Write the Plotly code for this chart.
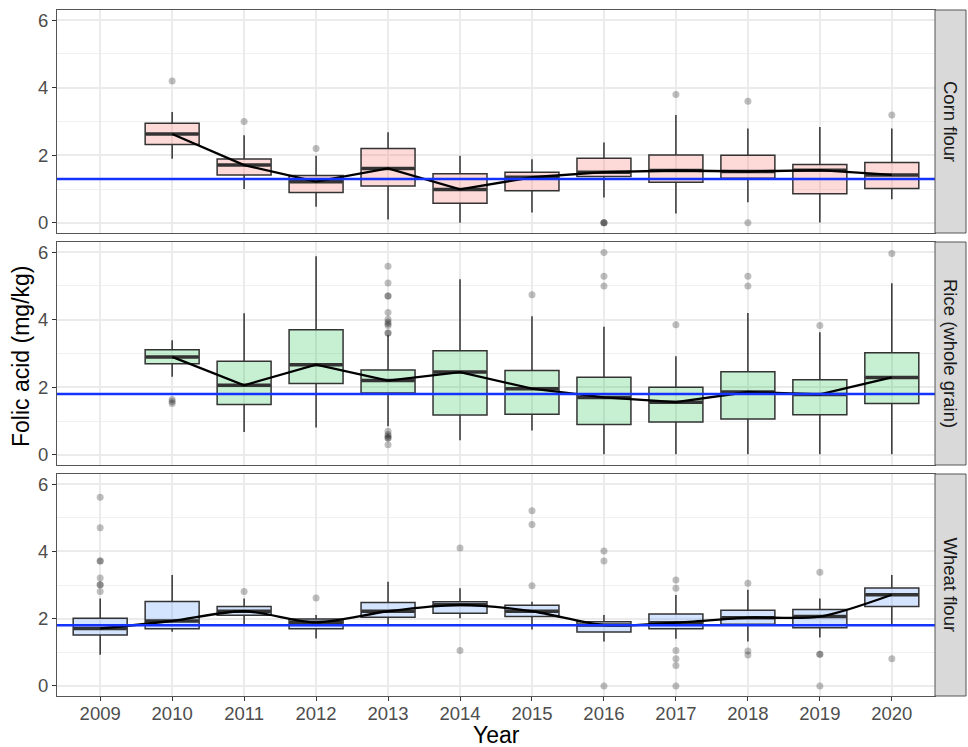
import plotly.graph_objects as go
from plotly.subplots import make_subplots

years = [str(y) for y in range(2009, 2021)]
panel_names = ["Corn flour", "Rice (whole grain)", "Wheat flour"]
reference_levels = [1.3, 1.8, 1.8]

# ---- Corn flour (2010-2020)
corn_years = years[1:]
corn_q1 = [2.32, 1.42, 0.90, 1.09, 0.58, 0.95, 1.37, 1.20, 1.32, 0.86, 1.02]
corn_med = [2.63, 1.71, 1.22, 1.61, 0.99, 1.35, 1.50, 1.55, 1.52, 1.56, 1.42]
corn_q3 = [2.95, 1.89, 1.40, 2.20, 1.45, 1.50, 1.91, 2.01, 2.00, 1.73, 1.79]
corn_lo = [1.90, 1.00, 0.48, 0.10, 0.00, 0.31, 0.75, 0.28, 0.61, 0.01, 0.70]
corn_hi = [3.28, 2.59, 1.99, 2.68, 1.99, 1.88, 2.38, 3.19, 2.79, 2.84, 2.79]
corn_out_x = ["2010", "2011", "2012", "2016", "2016", "2016", "2017", "2018", "2018", "2020"]
corn_out_y = [4.20, 3.00, 2.20, 0.0, 0.0, 0.0, 3.80, 3.60, 0.0, 3.19]

# ---- Rice (whole grain) (2010-2020)
rice_years = years[1:]
rice_q1 = [2.70, 1.49, 2.11, 1.83, 1.18, 1.20, 0.90, 0.97, 1.06, 1.19, 1.52]
rice_med = [2.90, 2.06, 2.67, 2.20, 2.45, 1.96, 1.70, 1.56, 1.86, 1.79, 2.29]
rice_q3 = [3.11, 2.77, 3.70, 2.51, 3.08, 2.50, 2.30, 2.00, 2.46, 2.22, 3.02]
rice_lo = [2.31, 0.68, 0.81, 0.85, 0.43, 0.72, 0.02, 0.02, 0.02, 0.02, 0.02]
rice_hi = [3.39, 4.19, 5.88, 3.54, 5.20, 4.10, 3.79, 2.92, 4.20, 3.63, 5.08]
rice_out_x = (["2010"] * 3 + ["2013"] * 17 + ["2015"] + ["2016"] * 3 + ["2017"]
              + ["2018"] * 2 + ["2019"] + ["2020"])
rice_out_y = [1.64, 1.58, 1.52,
              5.58, 5.09, 4.70, 4.70, 4.21, 4.01, 3.93, 3.88, 3.83, 3.61, 3.61,
              0.70, 0.60, 0.55, 0.50, 0.50, 0.30,
              4.74, 5.99, 5.29, 5.00, 3.85, 5.29, 5.00, 3.83, 5.96]

# ---- Wheat flour (2009-2020)
wheat_years = years
wheat_q1 = [1.51, 1.70, 2.10, 1.70, 2.04, 2.16, 2.06, 1.60, 1.70, 1.83, 1.73, 2.36]
wheat_med = [1.71, 1.93, 2.22, 1.89, 2.22, 2.41, 2.22, 1.81, 1.88, 2.03, 2.06, 2.71]
wheat_q3 = [2.01, 2.51, 2.36, 1.99, 2.48, 2.50, 2.40, 1.91, 2.14, 2.25, 2.27, 2.91]
wheat_lo = [0.93, 1.61, 1.83, 1.41, 1.83, 2.01, 1.68, 1.32, 1.40, 1.32, 1.44, 1.84]
wheat_hi = [2.60, 3.30, 2.60, 2.11, 3.10, 2.90, 2.50, 2.11, 2.70, 2.86, 2.60, 3.30]
wheat_out_x = (["2009"] * 8 + ["2011", "2012"] + ["2014"] * 2 + ["2015"] * 3
               + ["2016"] * 3 + ["2017"] * 6 + ["2018"] * 3 + ["2019"] * 4 + ["2020"])
wheat_out_y = [5.61, 4.70, 3.71, 3.71, 3.21, 3.01, 3.01, 2.81,
               2.81, 2.61, 4.10, 1.05, 5.21, 4.80, 2.98,
               4.01, 3.71, 0.0, 3.15, 2.90, 1.05, 0.81, 0.61, 0.0,
               3.05, 1.04, 0.92, 3.38, 0.94, 0.94, 0.0, 0.81]

fills = ["rgba(248,118,109,0.27)", "rgba(0,186,56,0.22)", "rgba(97,156,255,0.27)"]
line_shapes = ["linear", "linear", "spline"]

panels = [
    (corn_years, corn_q1, corn_med, corn_q3, corn_lo, corn_hi, corn_out_x, corn_out_y),
    (rice_years, rice_q1, rice_med, rice_q3, rice_lo, rice_hi, rice_out_x, rice_out_y),
    (wheat_years, wheat_q1, wheat_med, wheat_q3, wheat_lo, wheat_hi, wheat_out_x, wheat_out_y),
]

W, H = 968, 747
L, R, T, B = 57, 33, 10, 51
pw, ph = W - L - R, H - T - B
panel_px = [(10, 233), (242, 465), (474, 696)]
domains = [[(696 - b) / ph, (696 - t) / ph] for t, b in panel_px]

FONT = "Liberation Sans, Arial, sans-serif"
BORDER = "#555555"

fig = make_subplots(rows=3, cols=1, shared_xaxes=True, vertical_spacing=0.01)

box_px = 0.75 * pw / 12.2

for i, (cx, q1, med, q3, lo, hi, ox, oy) in enumerate(panels):
    r = i + 1
    fig.add_trace(go.Box(x=cx, q1=q1, median=med, q3=q3, lowerfence=lo, upperfence=hi,
                         fillcolor=fills[i], line=dict(color="#333333", width=1.5),
                         width=0.75, whiskerwidth=0, boxpoints=False,
                         showlegend=False, hoverinfo="skip"), row=r, col=1)
    fig.add_trace(go.Scatter(x=cx, y=med, mode="markers",
                             marker=dict(symbol="line-ew", size=(box_px - 1) / 1.4,
                                         line=dict(width=3.5, color="#333333")),
                             showlegend=False, hoverinfo="skip"), row=r, col=1)
    fig.add_trace(go.Scatter(x=ox, y=oy, mode="markers",
                             marker=dict(color="rgba(0,0,0,0.25)", size=7),
                             showlegend=False, hoverinfo="skip"), row=r, col=1)
    fig.add_trace(go.Scatter(x=cx, y=med, mode="lines",
                             line=dict(color="black", width=2.3, shape=line_shapes[i], smoothing=0.8),
                             showlegend=False, hoverinfo="skip"), row=r, col=1)
    fig.add_hline(y=reference_levels[i], line=dict(color="#1433FF", width=2.5), row=r, col=1)

axis_common = dict(showline=True, mirror=True, linecolor=BORDER, linewidth=1,
                   zeroline=False, gridcolor="#EBEBEB", gridwidth=1.5)

for i in range(3):
    r = i + 1
    fig.update_xaxes(type="category", categoryorder="array", categoryarray=years,
                     range=[-0.6, 11.6], showgrid=True,
                     ticks="outside" if r == 3 else "", ticklen=4, tickcolor="#333333",
                     showticklabels=(r == 3), ticklabelstandoff=-3,
                     tickfont=dict(family=FONT, size=18.5, color="#4D4D4D"),
                     **axis_common, row=r, col=1)
    fig.update_yaxes(range=[-0.3, 6.3], tickvals=[0, 2, 4, 6], domain=domains[i],
                     ticks="outside", ticklen=4, tickcolor="#333333",
                     tickfont=dict(family=FONT, size=18.5, color="#4D4D4D"),
                     minor=dict(tickvals=[1, 3, 5], showgrid=True, gridcolor="#F0F0F0",
                                gridwidth=1, ticks=""),
                     **axis_common, row=r, col=1)

strip_w = 31 / pw
for i, name in enumerate(panel_names):
    d0, d1 = domains[i]
    fig.add_shape(type="rect", xref="paper", yref="paper", x0=1.0, x1=1.0 + strip_w,
                  y0=d0, y1=d1, fillcolor="#D9D9D9", line=dict(color=BORDER, width=1))
    fig.add_annotation(xref="paper", yref="paper", x=1.0 + strip_w / 2, y=(d0 + d1) / 2,
                       text=name, textangle=90, showarrow=False,
                       font=dict(family=FONT, size=18.5, color="#1A1A1A"),
                       xanchor="center", yanchor="middle")

fig.add_annotation(xref="paper", yref="paper", x=(21 - L) / pw, y=0.5 - 4 / ph,
                   text="Folic acid (mg/kg)", textangle=-90, showarrow=False,
                   font=dict(family=FONT, size=23, color="black"),
                   xanchor="center", yanchor="middle")
fig.add_annotation(xref="paper", yref="paper", x=(496 - L) / pw, y=(696 - 735) / ph,
                   text="Year", showarrow=False,
                   font=dict(family=FONT, size=23, color="black"),
                   xanchor="center", yanchor="middle")

fig.update_layout(width=W, height=H, margin=dict(l=L, r=R, t=T, b=B),
                  plot_bgcolor="white", paper_bgcolor="white", showlegend=False,
                  boxgap=0, boxgroupgap=0)

fig.write_html("out.html", config={"displayModeBar": False},
               post_script="document.body.style.margin='0';")
